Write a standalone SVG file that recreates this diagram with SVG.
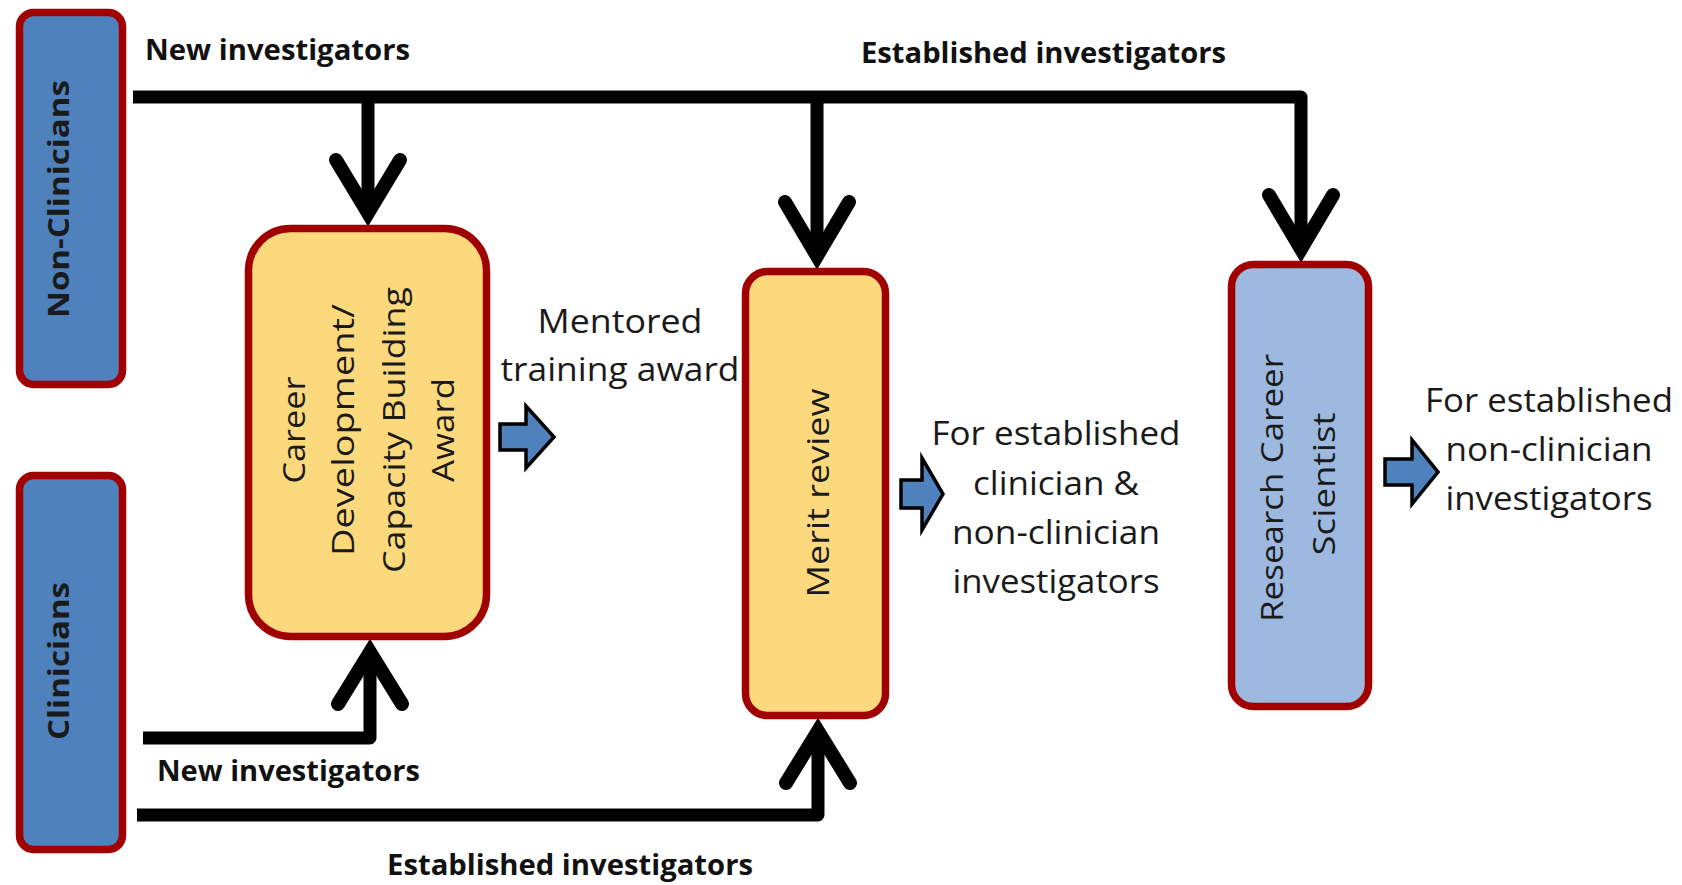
<svg xmlns="http://www.w3.org/2000/svg" width="1682" height="885" viewBox="0 0 1682 885">
<style>
.box{stroke:#A00000;stroke-width:7.5}
.dark{fill:#4F81BD}
.light{fill:#9DB9DF}
.yel{fill:#FDD97E}
.con{fill:none;stroke:#000;stroke-width:13;stroke-linejoin:round;stroke-linecap:butt}
.chev{fill:none;stroke:#000;stroke-width:14;stroke-linejoin:miter;stroke-linecap:round}
.blk{fill:#4F81BD;stroke:#000;stroke-width:3.5;stroke-linejoin:miter}
.lb{font-family:"Open Sans","Liberation Sans",sans-serif;font-weight:bold;font-size:28px;fill:#111}
.tx{font-family:"Open Sans","Liberation Sans",sans-serif;font-size:32px;fill:#1a1a1a}
.bx{font-family:"Open Sans","Liberation Sans",sans-serif;font-size:31px;fill:#1a1a1a;text-anchor:middle}
.bb{font-family:"Open Sans","Liberation Sans",sans-serif;font-weight:bold;font-size:29px;fill:#1a1a1a;text-anchor:middle}
</style>
<rect width="1682" height="885" fill="#fff"/>
<g id="connectors">
<path class="con" d="M133,97 H1301 V250"/>
<path class="con" d="M368,97 V212"/>
<path class="con" d="M817,97 V255"/>
<polyline class="chev" points="336,160 368,213 400,160"/>
<polyline class="chev" points="785,202 817,256 849,202"/>
<polyline class="chev" points="1269,195 1301,249 1333,195"/>
<path class="con" d="M143,738 H370 V652"/>
<polyline class="chev" points="338,704 370,652 402,704"/>
<path class="con" d="M137,815 H818 V731"/>
<polyline class="chev" points="786,783 818,731 850,783"/>
<text class="lb" x="145" y="60" textLength="265" lengthAdjust="spacingAndGlyphs">New investigators</text>
<text class="lb" x="861" y="63" textLength="365" lengthAdjust="spacingAndGlyphs">Established investigators</text>
<text class="lb" x="157" y="781" textLength="263" lengthAdjust="spacingAndGlyphs">New investigators</text>
<text class="lb" x="387" y="875" textLength="366" lengthAdjust="spacingAndGlyphs">Established investigators</text>
</g>
<g id="non-clinicians">
<rect class="box dark" x="19.5" y="12.5" width="103" height="372" rx="14"/>
<text class="bb" transform="translate(59,199) rotate(-90)" dy="0.36em" textLength="238" lengthAdjust="spacingAndGlyphs">Non-Clinicians</text>
</g>
<g id="clinicians">
<rect class="box dark" x="19.5" y="475.5" width="103" height="374" rx="14"/>
<text class="bb" transform="translate(59,661) rotate(-90)" dy="0.36em" textLength="158" lengthAdjust="spacingAndGlyphs">Clinicians</text>
</g>
<g id="career-development">
<rect class="box yel" x="248.5" y="228.5" width="238" height="408" rx="42"/>
<g transform="translate(0,430) rotate(-90)">
<text class="bx" x="0" y="294" dy="0.36em" textLength="107" lengthAdjust="spacingAndGlyphs">Career</text>
<text class="bx" x="0" y="343" dy="0.36em" textLength="252" lengthAdjust="spacingAndGlyphs">Development/</text>
<text class="bx" x="0" y="394" dy="0.36em" textLength="286" lengthAdjust="spacingAndGlyphs">Capacity Building</text>
<text class="bx" x="0" y="443" dy="0.36em" textLength="104" lengthAdjust="spacingAndGlyphs">Award</text>
</g>
</g>
<g id="mentored-arrow">
<polygon class="blk" points="500,424 526,424 526,406 554,437 526,468 526,450 500,450"/>
<text class="tx" x="620" y="333" text-anchor="middle" textLength="165" lengthAdjust="spacingAndGlyphs">Mentored</text>
<text class="tx" x="620" y="381" text-anchor="middle" textLength="239" lengthAdjust="spacingAndGlyphs">training award</text>
</g>
<g id="merit-review">
<rect class="box yel" x="745.5" y="271.5" width="140" height="444" rx="22"/>
<text class="bx" transform="translate(818,493) rotate(-90)" dy="0.36em" textLength="209" lengthAdjust="spacingAndGlyphs">Merit review</text>
</g>
<g id="merit-output">
<polygon class="blk" points="901,480 922,480 922,458 943,494 922,530 922,508 901,508"/>
<text class="tx" x="1056" y="445" text-anchor="middle" textLength="249" lengthAdjust="spacingAndGlyphs">For established</text>
<text class="tx" x="1056" y="495" text-anchor="middle" textLength="166" lengthAdjust="spacingAndGlyphs">clinician &amp;</text>
<text class="tx" x="1056" y="544" text-anchor="middle" textLength="208" lengthAdjust="spacingAndGlyphs">non-clinician</text>
<text class="tx" x="1056" y="593" text-anchor="middle" textLength="207" lengthAdjust="spacingAndGlyphs">investigators</text>
</g>
<g id="research-career-scientist">
<rect class="box light" x="1231.5" y="264.5" width="137" height="442" rx="22"/>
<text class="bx" transform="translate(1272,488) rotate(-90)" dy="0.36em" textLength="268" lengthAdjust="spacingAndGlyphs">Research Career</text>
<text class="bx" transform="translate(1324,484) rotate(-90)" dy="0.36em" textLength="143" lengthAdjust="spacingAndGlyphs">Scientist</text>
</g>
<g id="rcs-output">
<polygon class="blk" points="1385,459 1412,459 1412,440 1438,472 1412,504 1412,485 1385,485"/>
<text class="tx" x="1549" y="412" text-anchor="middle" textLength="248" lengthAdjust="spacingAndGlyphs">For established</text>
<text class="tx" x="1549" y="461" text-anchor="middle" textLength="207" lengthAdjust="spacingAndGlyphs">non-clinician</text>
<text class="tx" x="1549" y="510" text-anchor="middle" textLength="207" lengthAdjust="spacingAndGlyphs">investigators</text>
</g>
</svg>
